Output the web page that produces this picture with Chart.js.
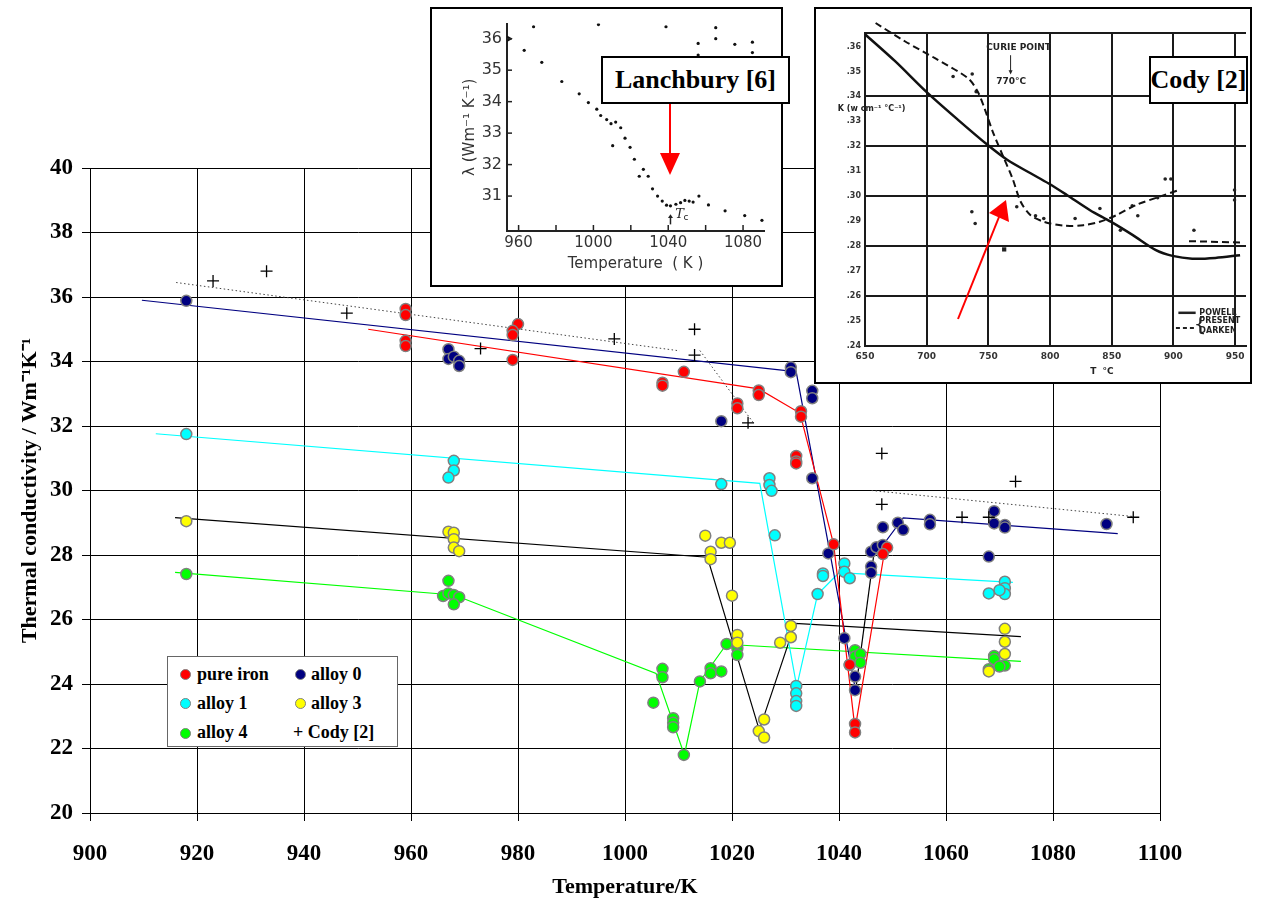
<!DOCTYPE html>
<html>
<head>
<meta charset="utf-8">
<script src="https://cdn.jsdelivr.net/npm/chart.js@4.4.1/dist/chart.umd.min.js"></script>
<style>
  body { margin: 0; background: #fff; }
  #wrap { position: relative; width: 1272px; height: 904px; overflow: hidden; }
  #main { position: absolute; left: 0; top: 0; }
  .inset { position: absolute; background: #fff; border: 2px solid #000; box-sizing: border-box; overflow: hidden; }
  .inset canvas { position: absolute; left: 0; top: 0; }
  .tag { position: absolute; background: #fff; border: 2px solid #000; box-sizing: border-box; white-space: nowrap;
         font: bold 26px "Liberation Serif"; display: flex; align-items: center; justify-content: center; }
  #legend { position: absolute; left: 167px; top: 656px; width: 231px; height: 91px; background: #fff;
            border: 1.5px solid #666; box-sizing: border-box; font: bold 18px "Liberation Serif"; }
  #legend span { position: absolute; white-space: nowrap; line-height: 20px; }
  #legend i { position: absolute; width: 9px; height: 9px; border-radius: 50%; border: 1px solid #808080; }
  #arrows { position: absolute; left: 0; top: 0; }
</style>
</head>
<body>
<div id="wrap">
  <canvas id="main" width="1272" height="904"></canvas>

  <div class="inset" style="left:430px;top:7px;width:353px;height:280px">
    <canvas id="lanch" width="349" height="276"></canvas>
  </div>
  <div class="inset" style="left:814px;top:7px;width:438px;height:377px">
    <canvas id="cody" width="434" height="373"></canvas>
  </div>
  <div class="tag" style="left:601px;top:56px;width:189px;height:48px">Lanchbury [6]</div>
  <div class="tag" style="left:1149px;top:56px;width:99px;height:48px">Cody [2]</div>

  <div id="legend">
    <i style="left:12px;top:12px;background:#ff0000"></i><span style="left:29px;top:7px">pure iron</span>
    <i style="left:127px;top:12px;background:#000080"></i><span style="left:143px;top:7px">alloy 0</span>
    <i style="left:12px;top:41px;background:#00ffff"></i><span style="left:29px;top:36px">alloy 1</span>
    <i style="left:127px;top:41px;background:#ffff00"></i><span style="left:143px;top:36px">alloy 3</span>
    <i style="left:12px;top:71px;background:#00ff00"></i><span style="left:29px;top:65px">alloy 4</span>
    <span style="left:125px;top:65px">+ Cody [2]</span>
  </div>

  <svg id="arrows" width="1272" height="904">
    <line x1="670" y1="104" x2="670" y2="155" stroke="#ff0000" stroke-width="2"/>
    <polygon points="660,153 680,153 670,175" fill="#ff0000"/>
    <line x1="958" y1="319" x2="999" y2="217" stroke="#ff0000" stroke-width="2"/>
    <polygon points="1006,200 989,213 1009,222" fill="#ff0000"/>
  </svg>
</div>

<script>
// ---- main chart ----
const xTicks = [900, 920, 940, 960, 980, 1000, 1020, 1040, 1060, 1080, 1100];
const yTicks = [20, 22, 24, 26, 28, 30, 32, 34, 36, 38, 40];

const ironT = [959, 959, 959, 959, 980, 979, 979, 979, 1007, 1007, 1011, 1021, 1021, 1025, 1025, 1032.9, 1032.9, 1032, 1032, 1032, 1039, 1043, 1043, 1042, 1049, 1048.2];
const ironK = [35.63, 35.44, 34.64, 34.48, 35.16, 34.95, 34.82, 34.05, 33.34, 33.25, 33.68, 32.7, 32.55, 33.1, 32.96, 32.46, 32.29, 31.07, 30.9, 30.84, 28.33, 22.76, 22.5, 24.6, 28.23, 28.03];

const a0T = [918, 967, 967, 968, 969, 969, 1018, 1031, 1031, 1035, 1035, 1035, 1038, 1041, 1042, 1043, 1043, 1046, 1046, 1046, 1047, 1048.2, 1048.2, 1051, 1052, 1057, 1057, 1069, 1069, 1071, 1071, 1068, 1090];
const a0K = [35.88, 34.38, 34.08, 34.15, 34.02, 33.86, 32.15, 33.82, 33.67, 33.09, 32.86, 30.38, 28.05, 25.42, 24.59, 24.23, 23.81, 27.64, 27.45, 28.1, 28.24, 28.31, 28.86, 29.0, 28.78, 29.09, 28.95, 29.36, 28.98, 28.93, 28.85, 27.95, 28.96];

const a1T = [918, 968, 968, 967, 1018, 1027, 1027, 1027.4, 1028, 1037, 1037, 1036, 1041, 1041, 1042, 1032, 1032, 1032, 1032, 1071, 1071, 1071, 1070, 1068];
const a1K = [31.75, 30.92, 30.62, 30.4, 30.2, 30.38, 30.17, 29.99, 28.61, 27.43, 27.35, 26.79, 27.74, 27.48, 27.28, 23.94, 23.71, 23.47, 23.32, 27.17, 26.97, 26.79, 26.91, 26.81];

const a3T = [918, 967, 968, 968, 968, 969, 1015, 1016, 1016, 1018, 1019.6, 1020, 1021, 1021, 1025, 1026, 1026, 1029, 1031, 1031, 1071, 1071, 1071, 1068];
const a3K = [29.05, 28.72, 28.69, 28.49, 28.23, 28.12, 28.6, 28.1, 27.87, 28.38, 28.38, 26.74, 25.52, 25.28, 22.54, 22.9, 22.34, 25.28, 25.8, 25.45, 25.71, 25.31, 24.93, 24.39];

const a4T = [918, 967, 966, 967, 968, 969, 968, 1005.3, 1007, 1007, 1009, 1009, 1009, 1011, 1014, 1016, 1016, 1018, 1019, 1021, 1021, 1043, 1043, 1044, 1044, 1069, 1069, 1071, 1070, 1068];
const a4K = [27.41, 27.2, 26.73, 26.81, 26.76, 26.69, 26.47, 23.42, 24.47, 24.21, 22.94, 22.8, 22.66, 21.8, 24.08, 24.49, 24.33, 24.39, 25.24, 25.11, 24.9, 25.05, 24.85, 24.93, 24.66, 24.87, 24.77, 24.57, 24.54, 24.46];

const codyT = [923, 933, 948, 973, 998, 1013, 1013, 1023, 1048, 1048, 1063, 1068, 1073, 1095];
const codyK = [36.5, 36.8, 35.5, 34.4, 34.7, 35.0, 34.2, 32.1, 31.15, 29.57, 29.17, 29.17, 30.28, 29.17];

// trend lines drawn through each data set
const ironFitT = [952, 1025, 1032.7, 1039, 1043, 1048.5];
const ironFitK = [35.0, 33.15, 32.4, 28.33, 22.6, 28.1];
const a0FitT = [909.7, 1031, 1032, 1043.1, 1046.7, 1048.2, 1052, 1092.1];
const a0FitK = [35.9, 33.7, 33.68, 23.8, 28.25, 28.3, 29.15, 28.66];
const a1FitT = [912.3, 1025.2, 1032.1, 1036, 1040, 1072.5];
const a1FitK = [31.76, 30.22, 23.92, 26.78, 27.45, 27.15];
const a3FitT = [915.9, 1015.4, 1025.1, 1031.8, 1074];
const a3FitK = [29.16, 27.93, 22.57, 25.88, 25.47];
const a4FitT = [915.9, 968.1, 1005.8, 1011.1, 1014, 1019, 1021.2, 1074];
const a4FitK = [27.46, 26.76, 24.33, 21.8, 24.08, 25.24, 25.21, 24.7];
const codyFit1T = [916.1, 1010.2], codyFit1K = [36.45, 34.33];
const codyFit2T = [1014, 1024], codyFit2K = [34.34, 32.1];
const codyFit3T = [1046.1, 1095.2], codyFit3K = [30.0, 29.19];

// ---- Lanchbury inset ----
const lanchXTicks = [960, 980, 1000, 1020, 1040, 1060, 1080];
const lanchXLabels = [960, 1000, 1040, 1080];
const lanchYTicks = [31, 32, 33, 34, 35, 36];
const lanchT = [963, 968, 972.4, 983.1, 992.4, 997.3, 1002.7, 1001.8, 1003.9, 1007.1, 1009.4, 1011.9, 1014.6, 1010.3, 1016.9, 1019.6, 1021.9, 1026.7, 1024.5, 1029.3, 1031.6, 1034.3, 1036.8, 1039.1, 1041.2, 1044.1, 1046.6, 1048.9, 1051.2, 1053.3, 1056.4, 1061.5, 1070.4, 1080.9, 1090.1, 1038.8, 1056, 1056, 1065.4, 1065.4, 1075.6, 1085, 1085];
const lanchL = [35.63, 36.38, 35.25, 34.64, 34.25, 33.97, 36.45, 33.76, 33.56, 33.43, 33.3, 33.35, 33.17, 32.6, 32.84, 32.55, 32.17, 31.85, 31.63, 31.63, 31.23, 31.0, 30.84, 30.71, 30.69, 30.74, 30.79, 30.86, 30.84, 30.81, 31.0, 30.72, 30.53, 30.38, 30.23, 36.38, 35.85, 35.48, 36.35, 36.0, 35.82, 35.89, 35.56];

// ---- Cody inset ----
const codyXTicks = [650, 700, 750, 800, 850, 900, 950];
const codyYTicks = [24, 25, 26, 27, 28, 29, 30, 31, 32, 33, 34, 35, 36];
const codyYGrid = [24, 26, 28, 30, 32, 34];
const powellT = [650, 674.6, 700, 725.4, 749.5, 765.5, 784.2, 798.9, 813.6, 832.4, 849.2, 867.1, 885.8, 899.2, 915.2, 934, 954];
const powellK = [36.49, 35.4, 34.17, 33.06, 32.05, 31.45, 30.92, 30.51, 30.05, 29.44, 28.98, 28.44, 27.84, 27.61, 27.5, 27.53, 27.64];
const darkenT = [658.6, 682.6, 706.7, 733.4, 741.4, 746.8, 753.5, 761.5, 769.5, 776.2, 784.2, 794.9, 811, 827, 840.4, 853.7, 869.8, 888.5, 904.5];
const darkenK = [36.94, 36.2, 35.53, 34.73, 34.19, 33.53, 32.59, 31.65, 30.72, 29.78, 29.24, 28.98, 28.82, 28.84, 28.98, 29.24, 29.65, 29.98, 30.25];
const darken2T = [912.6, 954];
const darken2K = [28.2, 28.15];
const codyPtT = [721.4, 736.9, 740.1, 736.6, 739.3, 773, 788.2, 794.9, 820.3, 840.4, 857, 866.6, 871.1, 893.3, 897.9, 887.2, 916.6, 949.5, 949.5];
const codyPtK = [34.8, 34.9, 34.19, 29.38, 28.91, 29.58, 29.22, 29.11, 29.11, 29.51, 28.64, 29.62, 29.22, 30.69, 30.69, 29.94, 28.64, 30.25, 29.85];
const codySqT = [762.8], codySqK = [27.87];

Chart.defaults.font.family = '"Liberation Serif", serif';
Chart.defaults.color = '#000';

const xy = (xs, ys) => xs.map((x, i) => ({ x, y: ys[i] }));

function dots(xs, ys, color) {
  return { data: xy(xs, ys), backgroundColor: color, borderColor: '#808080', borderWidth: 1.5,
           pointRadius: 5.5, showLine: false, order: 1 };
}
function fit(xs, ys, color, extra) {
  return Object.assign({ data: xy(xs, ys), borderColor: color, borderWidth: 1.2, pointRadius: 0,
                         showLine: true, fill: false, order: 3 }, extra || {});
}
const dotted = { borderDash: [1.5, 2.5], borderWidth: 1 };

new Chart(document.getElementById('main'), {
  type: 'scatter',
  data: {
    datasets: [
      fit(codyFit1T, codyFit1K, '#444', dotted),
      fit(codyFit2T, codyFit2K, '#444', dotted),
      fit(codyFit3T, codyFit3K, '#444', dotted),
      fit(ironFitT, ironFitK, '#ff0000'),
      fit(a0FitT, a0FitK, '#000080', { segment: { borderColor: c => c.p0DataIndex === 3 ? '#000' : undefined } }),
      fit(a1FitT, a1FitK, '#00ffff'),
      fit(a3FitT, a3FitK, '#000'),
      fit(a4FitT, a4FitK, '#00ff00'),
      dots(ironT, ironK, '#ff0000'),
      dots(a0T, a0K, '#000080'),
      dots(a1T, a1K, '#00ffff'),
      dots(a3T, a3K, '#ffff00'),
      dots(a4T, a4K, '#00ff00'),
      { data: xy(codyT, codyK), pointStyle: 'cross', pointRadius: 6, borderColor: '#000',
        borderWidth: 1.3, backgroundColor: '#000', showLine: false, order: 0 }
    ]
  },
  options: {
    responsive: false,
    animation: false,
    layout: { padding: { left: 0, top: 168, right: 112, bottom: 0 } },
    plugins: { legend: { display: false }, tooltip: { enabled: false } },
    scales: {
      x: {
        type: 'linear', min: 900, max: 1100,
        afterBuildTicks: s => { s.ticks = xTicks.map(v => ({ value: v })); },
        afterFit: s => { s.height = 91; },
        grid: { color: '#000', lineWidth: 1, tickLength: 8 },
        border: { color: '#000', width: 1 },
        ticks: { font: { size: 23, weight: 'bold' }, padding: 19, maxRotation: 0, callback: v => String(v) },
        title: { display: true, text: 'Temperature/K', font: { size: 22, weight: 'bold' }, padding: { bottom: 3 } }
      },
      y: {
        type: 'linear', min: 20, max: 40,
        afterBuildTicks: s => { s.ticks = yTicks.map(v => ({ value: v })); },
        afterFit: s => { s.width = 90; },
        grid: { color: '#000', lineWidth: 1, tickLength: 8 },
        border: { color: '#000', width: 1 },
        ticks: { font: { size: 23, weight: 'bold' }, padding: 9, callback: v => String(v) },
        title: { display: true, text: 'Thermal conductivity / Wm\u207B\u00B9K\u207B\u00B9', font: { size: 22, weight: 'bold' }, padding: { top: 17 } }
      }
    }
  }
});

// inward tick marks and the Tc marker of the scanned Lanchbury graph
const lanchMarks = {
  id: 'lanchMarks',
  afterDraw(chart) {
    const { ctx, chartArea: a, scales: { x, y } } = chart;
    ctx.save();
    ctx.strokeStyle = '#222';
    ctx.lineWidth = 1.5;
    lanchXTicks.forEach(v => {
      const px = x.getPixelForValue(v);
      ctx.beginPath(); ctx.moveTo(px, a.bottom); ctx.lineTo(px, a.bottom - 6); ctx.stroke();
    });
    lanchYTicks.forEach(v => {
      const py = y.getPixelForValue(v);
      ctx.beginPath(); ctx.moveTo(a.left, py); ctx.lineTo(a.left + 5, py); ctx.stroke();
    });
    const tx = x.getPixelForValue(1041.2);
    ctx.beginPath(); ctx.moveTo(tx, y.getPixelForValue(30.1)); ctx.lineTo(tx, y.getPixelForValue(30.35)); ctx.stroke();
    ctx.fillStyle = '#222';
    ctx.beginPath();
    ctx.moveTo(tx, y.getPixelForValue(30.42));
    ctx.lineTo(tx - 2.5, y.getPixelForValue(30.3));
    ctx.lineTo(tx + 2.5, y.getPixelForValue(30.3));
    ctx.fill();
    ctx.font = 'italic 13px "DejaVu Serif"';
    ctx.textBaseline = 'middle';
    ctx.fillText('T', x.getPixelForValue(1043.8), y.getPixelForValue(30.42));
    ctx.font = '9px "DejaVu Sans"';
    ctx.fillText('c', x.getPixelForValue(1048.2), y.getPixelForValue(30.3));
    ctx.restore();
  }
};

new Chart(document.getElementById('lanch'), {
  type: 'scatter',
  data: {
    datasets: [
      { data: xy(lanchT, lanchL), pointRadius: 1.6, backgroundColor: '#111', borderWidth: 0 },
      { data: [{ x: 954.7, y: 36 }], pointStyle: 'triangle', rotation: 90, pointRadius: 4,
        backgroundColor: '#111', borderWidth: 0 }
    ]
  },
  options: {
    responsive: false,
    animation: false,
    layout: { padding: { left: 0, top: 8, right: 17, bottom: 0 } },
    plugins: { legend: { display: false }, tooltip: { enabled: false } },
    scales: {
      x: {
        type: 'linear', min: 953.8, max: 1091.2,
        afterBuildTicks: s => { s.ticks = lanchXTicks.map(v => ({ value: v })); },
        afterFit: s => { s.height = 54; },
        grid: { display: false, drawTicks: false },
        border: { color: '#222', width: 2 },
        ticks: { color: '#333', font: { family: '"DejaVu Sans"', size: 15 }, padding: 3, maxRotation: 0,
                 callback: v => lanchXLabels.includes(v) ? String(v) : '' },
        title: { display: true, text: 'Temperature  ( K )', color: '#333',
                 font: { family: '"DejaVu Sans"', size: 15 }, padding: { bottom: 12 } }
      },
      y: {
        type: 'linear', min: 29.89, max: 36.48,
        afterBuildTicks: s => { s.ticks = lanchYTicks.map(v => ({ value: v })); },
        afterFit: s => { s.width = 75; },
        grid: { display: false, drawTicks: false },
        border: { color: '#222', width: 2 },
        ticks: { color: '#333', font: { family: '"DejaVu Sans"', size: 16 }, padding: 5 },
        title: { display: true, text: '\u03BB (Wm\u207B\u00B9 K\u207B\u00B9)', color: '#333',
                 font: { family: '"DejaVu Sans"', size: 15 }, padding: { top: 29 } }
      }
    }
  },
  plugins: [lanchMarks]
});

// labels of the scanned Cody graph
const codyText = {
  id: 'codyText',
  afterDraw(chart) {
    const { ctx, scales: { x, y } } = chart;
    ctx.save();
    ctx.fillStyle = '#222';
    ctx.strokeStyle = '#222';
    ctx.font = 'bold 9px "DejaVu Sans"';
    ctx.textAlign = 'center';
    ctx.textBaseline = 'middle';
    ctx.fillText('CURIE POINT', x.getPixelForValue(774.5), y.getPixelForValue(35.96));
    ctx.fillText('770\u00B0C', x.getPixelForValue(768.5), y.getPixelForValue(34.6));
    const ax = x.getPixelForValue(768);
    ctx.lineWidth = 1;
    ctx.beginPath(); ctx.moveTo(ax, y.getPixelForValue(35.65)); ctx.lineTo(ax, y.getPixelForValue(34.95)); ctx.stroke();
    ctx.beginPath();
    ctx.moveTo(ax, y.getPixelForValue(34.88));
    ctx.lineTo(ax - 2, y.getPixelForValue(35.05));
    ctx.lineTo(ax + 2, y.getPixelForValue(35.05));
    ctx.fill();
    ctx.fillText('T  \u00B0C', x.getPixelForValue(842), chart.chartArea.bottom + 26);
    ctx.textAlign = 'left';
    ctx.font = 'bold 8px "DejaVu Sans"';
    ctx.fillText('K (w cm\u207B\u00B9 \u00B0C\u207B\u00B9)', x.getPixelForValue(628), y.getPixelForValue(33.5));
    // legend of the scan
    ctx.lineWidth = 2.5;
    ctx.beginPath(); ctx.moveTo(x.getPixelForValue(904), y.getPixelForValue(25.33)); ctx.lineTo(x.getPixelForValue(918), y.getPixelForValue(25.33)); ctx.stroke();
    ctx.setLineDash([4, 3]);
    ctx.lineWidth = 2;
    ctx.beginPath(); ctx.moveTo(x.getPixelForValue(902), y.getPixelForValue(24.72)); ctx.lineTo(x.getPixelForValue(917), y.getPixelForValue(24.72)); ctx.stroke();
    ctx.setLineDash([]);
    ctx.fillText('POWELL', x.getPixelForValue(921), y.getPixelForValue(25.33));
    ctx.fillText('PRESENT', x.getPixelForValue(921), y.getPixelForValue(25.0));
    ctx.fillText('DARKEN', x.getPixelForValue(921), y.getPixelForValue(24.6));
    ctx.font = '20px "DejaVu Sans"';
    ctx.fillText('{', x.getPixelForValue(916.5), y.getPixelForValue(24.8));
    ctx.restore();
  }
};

new Chart(document.getElementById('cody'), {
  type: 'scatter',
  data: {
    datasets: [
      { data: xy(powellT, powellK), showLine: true, pointRadius: 0, borderColor: '#111', borderWidth: 2.5, tension: 0.3 },
      { data: xy(darkenT, darkenK), showLine: true, pointRadius: 0, borderColor: '#111', borderWidth: 2,
        borderDash: [7, 4], tension: 0.3, clip: false },
      { data: xy(darken2T, darken2K), showLine: true, pointRadius: 0, borderColor: '#111', borderWidth: 2, borderDash: [7, 4] },
      { data: xy(codyPtT, codyPtK), pointRadius: 1.8, backgroundColor: '#222', borderWidth: 0 },
      { data: xy(codySqT, codySqK), pointStyle: 'rect', pointRadius: 3, backgroundColor: '#222', borderWidth: 0 }
    ]
  },
  options: {
    responsive: false,
    animation: false,
    layout: { padding: { left: 0, top: 24, right: 0, bottom: 0 } },
    plugins: { legend: { display: false }, tooltip: { enabled: false } },
    scales: {
      x: {
        type: 'linear', min: 650, max: 958.8,
        afterBuildTicks: s => { s.ticks = codyXTicks.map(v => ({ value: v })); },
        afterFit: s => { s.height = 36; },
        grid: { color: '#1a1a1a', lineWidth: 2, drawTicks: false },
        border: { color: '#1a1a1a', width: 2 },
        ticks: { color: '#333', font: { family: '"DejaVu Sans"', size: 9, weight: 'bold' }, padding: 5, maxRotation: 0 }
      },
      y: {
        type: 'linear', min: 24, max: 36.54,
        afterBuildTicks: s => { s.ticks = codyYTicks.map(v => ({ value: v })).concat([{ value: s.max }]); },
        afterFit: s => { s.width = 49; },
        grid: { color: c => (codyYGrid.includes(c.tick.value) || c.tick.value === 36.54) ? '#1a1a1a' : 'rgba(0,0,0,0)',
                lineWidth: 2, drawTicks: false },
        border: { color: '#1a1a1a', width: 2 },
        ticks: { color: '#333', font: { family: '"DejaVu Sans"', size: 8, weight: 'bold' }, padding: 4,
                 callback: v => codyYTicks.includes(v) ? '.' + v : '' }
      }
    }
  },
  plugins: [codyText]
});
</script>
</body>
</html>
